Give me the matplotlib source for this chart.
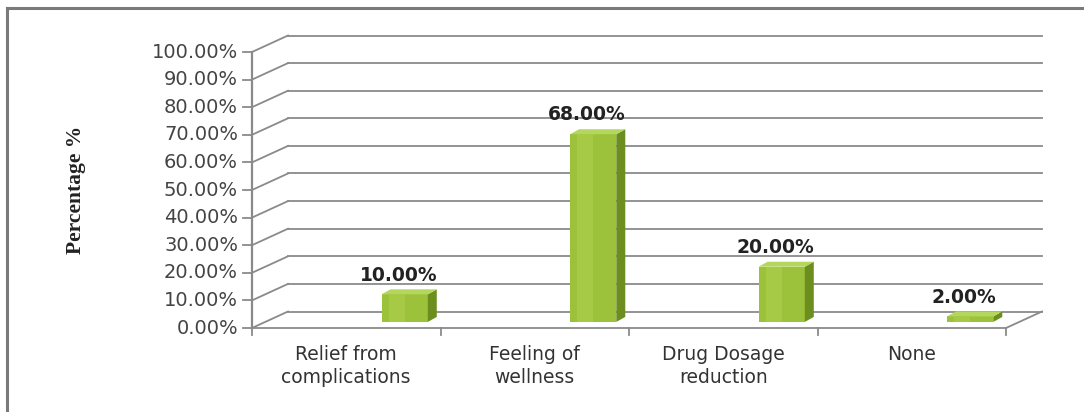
import matplotlib
matplotlib.use("Agg")
import matplotlib.pyplot as plt
from matplotlib.patches import Polygon
from matplotlib.lines import Line2D

categories = ["Relief from\ncomplications", "Feeling of\nwellness", "Drug Dosage\nreduction", "None"]
values = [10.0, 68.0, 20.0, 2.0]
value_labels = ["10.00%", "68.00%", "20.00%", "2.00%"]
y_ticks = [0, 10, 20, 30, 40, 50, 60, 70, 80, 90, 100]
y_tick_labels = ["0.00%", "10.00%", "20.00%", "30.00%", "40.00%", "50.00%",
                 "60.00%", "70.00%", "80.00%", "90.00%", "100.00%"]
y_label = "Percentage %"

W, H = 1084, 412
fig = plt.figure(figsize=(W / 100, H / 100), dpi=100)
fig.patch.set_facecolor("white")

# axes: x 0..4 -> px 252..1006 ; y 0..100 -> px 328..52
L, R, T, B = 252, 1006, 52, 328
ax = fig.add_axes([L / W, (H - B) / H, (R - L) / W, (B - T) / H])
ax.set_xlim(0, 4)
ax.set_ylim(0, 100)
ax.axis("off")

px_x = 4 / (R - L)          # data per pixel (x)
px_y = 100 / (B - T)        # data per pixel (y)
DX = 36 * px_x              # depth offset of back wall
DY = 16.5 * px_y

grid_c = "#8a8a8a"
# back wall gridlines and left wall diagonals
for v in y_ticks:
    ax.plot([DX, 4 + DX], [v + DY, v + DY], color=grid_c, lw=1.3, clip_on=False, zorder=1)
    ax.plot([0, DX], [v, v + DY], color=grid_c, lw=1.3, clip_on=False, zorder=1)
    ax.plot([-9 * px_x, 0], [v, v], color=grid_c, lw=1.3, clip_on=False, zorder=1)
# front floor edge and right floor diagonal
ax.plot([0, 4], [0, 0], color=grid_c, lw=1.3, clip_on=False, zorder=1)
ax.plot([4, 4 + DX], [0, DY], color=grid_c, lw=1.3, clip_on=False, zorder=1)
# left vertical axis
ax.plot([0, 0], [0, 100], color=grid_c, lw=1.6, clip_on=False, zorder=1)
# category tick marks
for i in range(5):
    ax.plot([i, i], [0, -7 * px_y], color=grid_c, lw=1.3, clip_on=False, zorder=1)

# tick labels
for v, lab in zip(y_ticks, y_tick_labels):
    ax.text(-14 * px_x, v, lab, ha="right", va="center", fontsize=14,
            family="DejaVu Sans", color="#444444", clip_on=False)

for i, c in enumerate(categories):
    ax.text(i + 0.5, -17 * px_y, c, ha="center", va="top", fontsize=13.5,
            family="DejaVu Sans", color="#333333", linespacing=1.25, clip_on=False)

ax.text(-176 * px_x, 50, y_label, rotation=90, ha="center", va="center",
        fontsize=15.5, family="Liberation Serif", fontweight="bold", color="#222222",
        clip_on=False)

# bars (pseudo-3D)
BASE = 2.2
SHIFT = 0.31
BW = 0.245
bdx = 9 * px_x
bdy = 5 * px_y
front_c = "#9bc23a"
side_c = "#6c8e1f"
top_c = "#b5d65c"
centers = [i + 0.5 + SHIFT for i in range(len(values))]
bars = ax.bar(centers, values, width=BW, bottom=BASE, color=front_c,
              edgecolor="none", zorder=3, clip_on=False)
for rect, v in zip(bars, values):
    x0 = rect.get_x()
    x1 = x0 + rect.get_width()
    y0 = rect.get_y()
    y1 = y0 + rect.get_height()
    ax.add_patch(Polygon([(x1, y0), (x1 + bdx, y0 + bdy), (x1 + bdx, y1 + bdy), (x1, y1)],
                         closed=True, facecolor=side_c, edgecolor="none", zorder=3, clip_on=False))
    ax.add_patch(Polygon([(x0, y1), (x1, y1), (x1 + bdx, y1 + bdy), (x0 + bdx, y1 + bdy)],
                         closed=True, facecolor=top_c, edgecolor="none", zorder=3, clip_on=False))
    # soft highlight stripe
    ax.add_patch(Polygon([(x0 + 0.15 * BW, y0), (x0 + 0.5 * BW, y0), (x0 + 0.5 * BW, y1), (x0 + 0.15 * BW, y1)],
                         closed=True, facecolor="#a6ca46", edgecolor="none", zorder=3, clip_on=False))

for cx, v, lab in zip(centers, values, value_labels):
    ax.text(cx - 6 * px_x, v + BASE + 7, lab, ha="center", va="center", fontsize=13.5,
            fontweight="bold", family="DejaVu Sans", color="#222222", clip_on=False)

# outer frame (top and left edges visible)
fig.add_artist(Line2D([7 / W, 1.0], [1 - 8 / H, 1 - 8 / H], transform=fig.transFigure,
                      color="#7a7a7a", lw=2.2))
fig.add_artist(Line2D([7 / W, 7 / W], [0, 1 - 8 / H], transform=fig.transFigure,
                      color="#7a7a7a", lw=2.2))

fig.savefig("out.png", dpi=100)
